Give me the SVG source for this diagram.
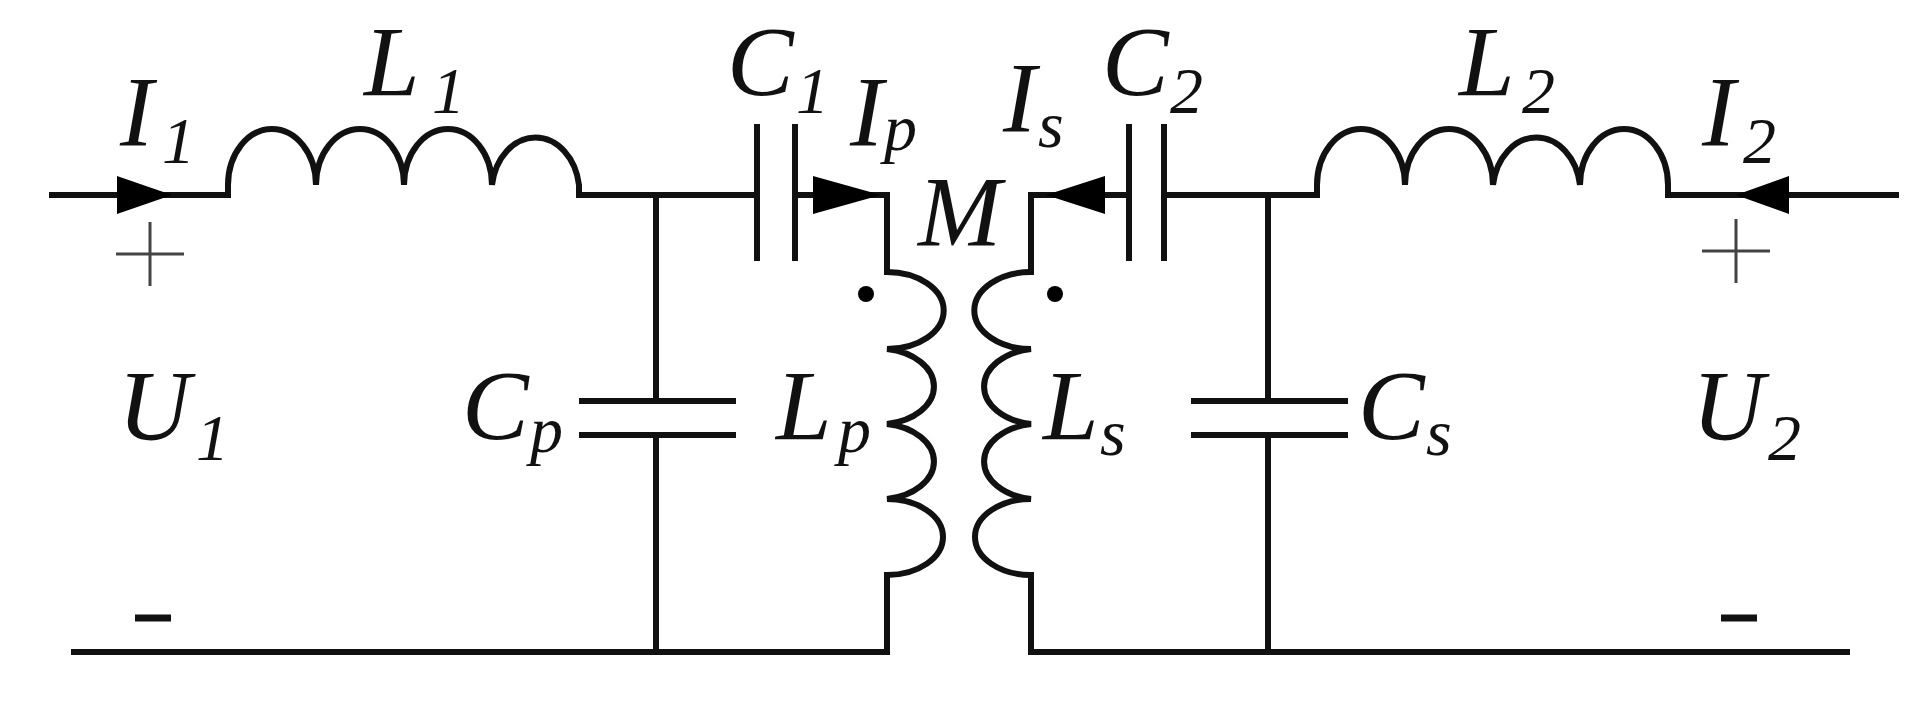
<svg xmlns="http://www.w3.org/2000/svg" width="1932" height="710" viewBox="0 0 1932 710">
<style>
.w{fill:none;stroke:#111;stroke-width:6;stroke-linecap:square;stroke-linejoin:miter}
.t{fill:none;stroke:#444;stroke-width:3}
.a{fill:#000}
text{font-family:"Liberation Serif","Times New Roman",serif;font-style:italic;fill:#111}
.m{font-size:100px}
.s{font-size:66px}
</style>
<rect width="1932" height="710" fill="#fff"/>
<g id="connectors">
<path class="w" d="M52,195H228M579,195H757M656,195V401M656,435V652M795,195H887V272M887,575V652H74"/>
<path class="w" d="M1896,195H1668M1317,195H1164M1268,195V401M1268,435V652M1129,195H1031V272M1031,575V652H1847"/>
</g>
<g id="L1"><path class="w" d="M228,195V185A44,56 0 0 1 316,185A44,56 0 0 1 404,185A44,56 0 0 1 492,185A44,56 0 0 1 579,185V195"/></g>
<g id="L2"><path class="w" d="M1317,195V185A44,56 0 0 1 1405,185A44,56 0 0 1 1493,185A44,56 0 0 1 1580,185A44,56 0 0 1 1668,185V195"/></g>
<g id="Lp"><path class="w" d="M887,272A56,38 0 0 1 887,349A56,38 0 0 1 887,424A56,38 0 0 1 887,499A56,38 0 0 1 887,575"/><circle cx="866" cy="294" r="8" class="a"/></g>
<g id="Ls"><path class="w" d="M1031,272A56,38 0 0 0 1031,349A56,38 0 0 0 1031,424A56,38 0 0 0 1031,499A56,38 0 0 0 1031,575"/><circle cx="1055" cy="294" r="8" class="a"/></g>
<g id="C1"><path class="w" d="M757,127V258M795,127V258"/></g>
<g id="C2"><path class="w" d="M1129,127V258M1164,127V258"/></g>
<g id="Cp"><path class="w" d="M582,401H733M582,435H733"/></g>
<g id="Cs"><path class="w" d="M1194,401H1345M1194,435H1345"/></g>
<g id="arrows">
<polygon class="a" points="117,176 172,195 117,214"/>
<polygon class="a" points="813,176 881,195 813,214"/>
<polygon class="a" points="1105,176 1046,195 1105,214"/>
<polygon class="a" points="1789,176 1736,195 1789,214"/>
</g>
<g id="signs">
<path class="t" d="M116,254H184M150,222V286M1702,251H1770M1736,219V283"/>
<path d="M135,618H171M1721,618H1757" stroke="#111" stroke-width="7"/>
</g>
<g id="labels">
<text class="m" x="120" y="145">I</text><text class="s" x="162" y="163">1</text>
<text class="m" x="364" y="95">L</text><text class="s" x="432" y="113">1</text>
<text class="m" x="727" y="95">C</text><text class="s" x="796" y="113">1</text>
<text class="m" x="850" y="145">I</text><text class="s" x="884" y="150">p</text>
<text class="m" x="918" y="245">M</text>
<text class="m" x="1003" y="131">I</text><text class="s" x="1038" y="147">s</text>
<text class="m" x="1102" y="95">C</text><text class="s" x="1170" y="113">2</text>
<text class="m" x="1459" y="95">L</text><text class="s" x="1522" y="113">2</text>
<text class="m" x="1702" y="145">I</text><text class="s" x="1743" y="163">2</text>
<text class="m" x="118" y="439">U</text><text class="s" x="196" y="460">1</text>
<text class="m" x="462" y="439">C</text><text class="s" x="530" y="452">p</text>
<text class="m" x="776" y="439">L</text><text class="s" x="838" y="452">p</text>
<text class="m" x="1043" y="439">L</text><text class="s" x="1100" y="455">s</text>
<text class="m" x="1358" y="439">C</text><text class="s" x="1426" y="455">s</text>
<text class="m" x="1692" y="439">U</text><text class="s" x="1768" y="460">2</text>
</g>
</svg>
